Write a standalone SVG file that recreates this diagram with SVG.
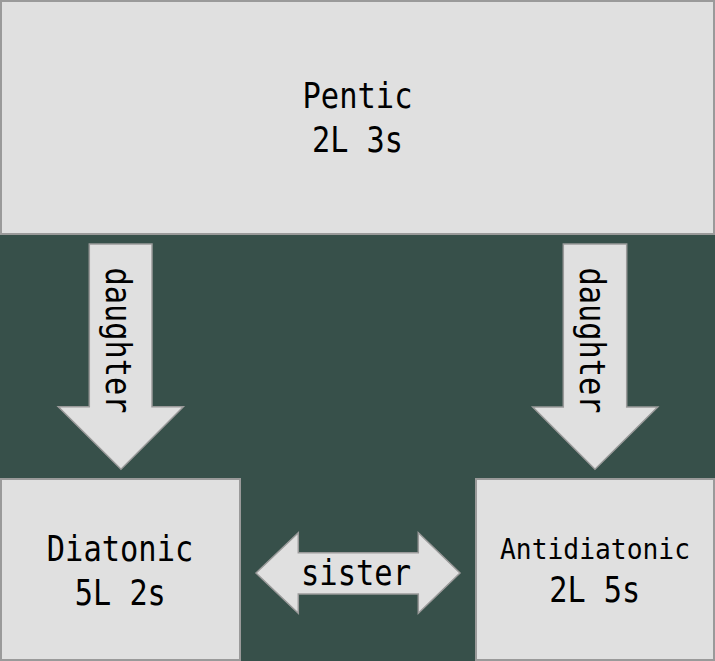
<svg xmlns="http://www.w3.org/2000/svg" width="715" height="661" viewBox="0 0 715 661">
  <style>
    .box { fill: #e0e0e0; stroke: #9a9a9a; stroke-width: 2; }
    .arrow { fill: #e0e0e0; stroke: #9a9a9a; stroke-width: 1.5; stroke-linejoin: miter; }
    .t { font-family: "DejaVu Sans Mono", "Liberation Mono", monospace; font-size: 36px; fill: #000; text-anchor: middle; }
    .ts { font-size: 29px; }
  </style>

  <!-- backdrop -->
  <rect x="0" y="0" width="715" height="661" fill="#37504a"/>

  <!-- connectors -->
  <g id="connectors">
    <g id="daughter-left">
      <path class="arrow" d="M89.3,244 H152 V406.7 H183.3 L121,469.3 L58.3,406.7 H89.3 Z"/>
      <text class="t" transform="translate(106,340.5) rotate(90)" textLength="146" lengthAdjust="spacingAndGlyphs">daughter</text>
    </g>
    <g id="daughter-right">
      <path class="arrow" d="M563.3,244 H626.7 V407 H657.7 L595,469.3 L532.7,407 H563.3 Z"/>
      <text class="t" transform="translate(580,340.5) rotate(90)" textLength="146" lengthAdjust="spacingAndGlyphs">daughter</text>
    </g>
    <g id="sister">
      <path class="arrow" d="M256,573 L298.3,532.7 V552.7 H418.3 V532.7 L460,573 L418.3,613.3 V594 H298.3 V613.3 Z"/>
      <text class="t" x="356" y="585" textLength="110" lengthAdjust="spacingAndGlyphs">sister</text>
    </g>
  </g>

  <!-- nodes -->
  <g id="pentic">
    <rect class="box" x="1" y="1" width="713" height="233"/>
    <text class="t" x="357.5" y="108.3" textLength="110" lengthAdjust="spacingAndGlyphs">Pentic</text>
    <text class="t" x="357.5" y="151.7" textLength="91" lengthAdjust="spacingAndGlyphs">2L 3s</text>
  </g>

  <g id="diatonic">
    <rect class="box" x="1" y="479" width="239" height="181"/>
    <text class="t" x="120" y="561" textLength="146.5" lengthAdjust="spacingAndGlyphs">Diatonic</text>
    <text class="t" x="120.3" y="605" textLength="91" lengthAdjust="spacingAndGlyphs">5L 2s</text>
  </g>

  <g id="antidiatonic">
    <rect class="box" x="476" y="479" width="238" height="181"/>
    <text class="t ts" x="595" y="559" textLength="190" lengthAdjust="spacingAndGlyphs">Antidiatonic</text>
    <text class="t" x="594.7" y="601.7" textLength="91" lengthAdjust="spacingAndGlyphs">2L 5s</text>
  </g>
</svg>
